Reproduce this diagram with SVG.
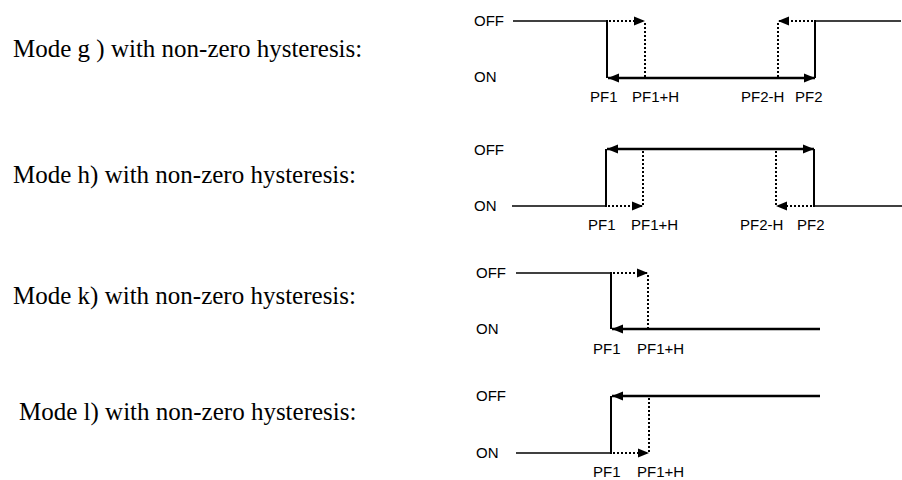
<svg xmlns="http://www.w3.org/2000/svg" width="902" height="480" viewBox="0 0 902 480">
<style>
.mode{font-family:"Liberation Serif","Times New Roman",serif;font-size:25px;fill:#000}
.lbl{font-family:"Liberation Sans",Arial,sans-serif;font-size:15px;fill:#000}
.thin{stroke:#000;stroke-width:1.5;fill:none}
.edge{stroke:#000;stroke-width:2;fill:none}
.thick{stroke:#000;stroke-width:2.5;fill:none}
.dot{stroke:#000;stroke-width:2;stroke-dasharray:2 2;fill:none}
</style>
<defs>
<marker id="ah" markerUnits="userSpaceOnUse" markerWidth="12" markerHeight="10" refX="11" refY="5" orient="auto-start-reverse">
<path d="M0,0.5 L11,5 L0,9.5 z" fill="#000"/>
</marker>
</defs>
<rect width="902" height="480" fill="#fff"/>

<g id="mode-g">
<text class="mode" x="13" y="57">Mode g ) with non-zero hysteresis:</text>
<text class="lbl" x="474" y="26">OFF</text>
<text class="lbl" x="474" y="82">ON</text>
<text class="lbl" x="590" y="102">PF1</text>
<text class="lbl" x="632" y="102">PF1+H</text>
<text class="lbl" x="741" y="102">PF2-H</text>
<text class="lbl" x="795" y="102">PF2</text>
</g>
<g id="mode-h">
<text class="mode" x="13" y="183">Mode h) with non-zero hysteresis:</text>
<text class="lbl" x="474" y="155">OFF</text>
<text class="lbl" x="474" y="211">ON</text>
<text class="lbl" x="588" y="230">PF1</text>
<text class="lbl" x="631" y="230">PF1+H</text>
<text class="lbl" x="740" y="230">PF2-H</text>
<text class="lbl" x="797" y="230">PF2</text>
</g>
<g id="mode-k">
<text class="mode" x="13" y="304">Mode k) with non-zero hysteresis:</text>
<text class="lbl" x="476" y="278">OFF</text>
<text class="lbl" x="476" y="334">ON</text>
<text class="lbl" x="593" y="354">PF1</text>
<text class="lbl" x="637" y="354">PF1+H</text>
</g>
<g id="mode-l">
<text class="mode" x="19" y="420">Mode l) with non-zero hysteresis:</text>
<text class="lbl" x="476" y="401">OFF</text>
<text class="lbl" x="476" y="458">ON</text>
<text class="lbl" x="593" y="477">PF1</text>
<text class="lbl" x="637" y="477">PF1+H</text>
</g>

<g id="connectors">
<!-- mode g -->
<line class="thin" x1="513" y1="21" x2="607" y2="21"/>
<line class="thin" x1="815" y1="21" x2="901" y2="21"/>
<line class="edge" x1="607" y1="20" x2="607" y2="78"/>
<line class="edge" x1="815" y1="20" x2="815" y2="78"/>
<line class="dot" x1="609" y1="21" x2="645" y2="21" marker-end="url(#ah)"/>
<line class="dot" x1="645" y1="23" x2="645" y2="78"/>
<line class="dot" x1="813" y1="21" x2="778" y2="21" marker-end="url(#ah)"/>
<line class="dot" x1="778" y1="23" x2="778" y2="78"/>
<line class="thick" x1="608" y1="78" x2="815" y2="78" marker-start="url(#ah)" marker-end="url(#ah)"/>
<!-- mode h -->
<line class="thin" x1="512" y1="206" x2="606" y2="206"/>
<line class="thin" x1="814" y1="206" x2="902" y2="206"/>
<line class="edge" x1="606" y1="149" x2="606" y2="207"/>
<line class="edge" x1="814" y1="149" x2="814" y2="207"/>
<line class="dot" x1="608" y1="206" x2="643" y2="206" marker-end="url(#ah)"/>
<line class="dot" x1="643" y1="151" x2="643" y2="206"/>
<line class="dot" x1="812" y1="206" x2="776" y2="206" marker-end="url(#ah)"/>
<line class="dot" x1="776" y1="151" x2="776" y2="206"/>
<line class="thick" x1="607" y1="149" x2="814" y2="149" marker-start="url(#ah)" marker-end="url(#ah)"/>
<!-- mode k -->
<line class="thin" x1="516" y1="273" x2="611" y2="273"/>
<line class="edge" x1="611" y1="272" x2="611" y2="329"/>
<line class="dot" x1="613" y1="273" x2="648" y2="273" marker-end="url(#ah)"/>
<line class="dot" x1="648" y1="275" x2="648" y2="329"/>
<line class="thick" x1="820" y1="329" x2="612" y2="329" marker-end="url(#ah)"/>
<!-- mode l -->
<line class="thin" x1="516" y1="453" x2="611" y2="453"/>
<line class="edge" x1="611" y1="396" x2="611" y2="454"/>
<line class="dot" x1="613" y1="453" x2="649" y2="453" marker-end="url(#ah)"/>
<line class="dot" x1="649" y1="398" x2="649" y2="453"/>
<line class="thick" x1="820" y1="396" x2="612" y2="396" marker-end="url(#ah)"/>
</g>
</svg>
